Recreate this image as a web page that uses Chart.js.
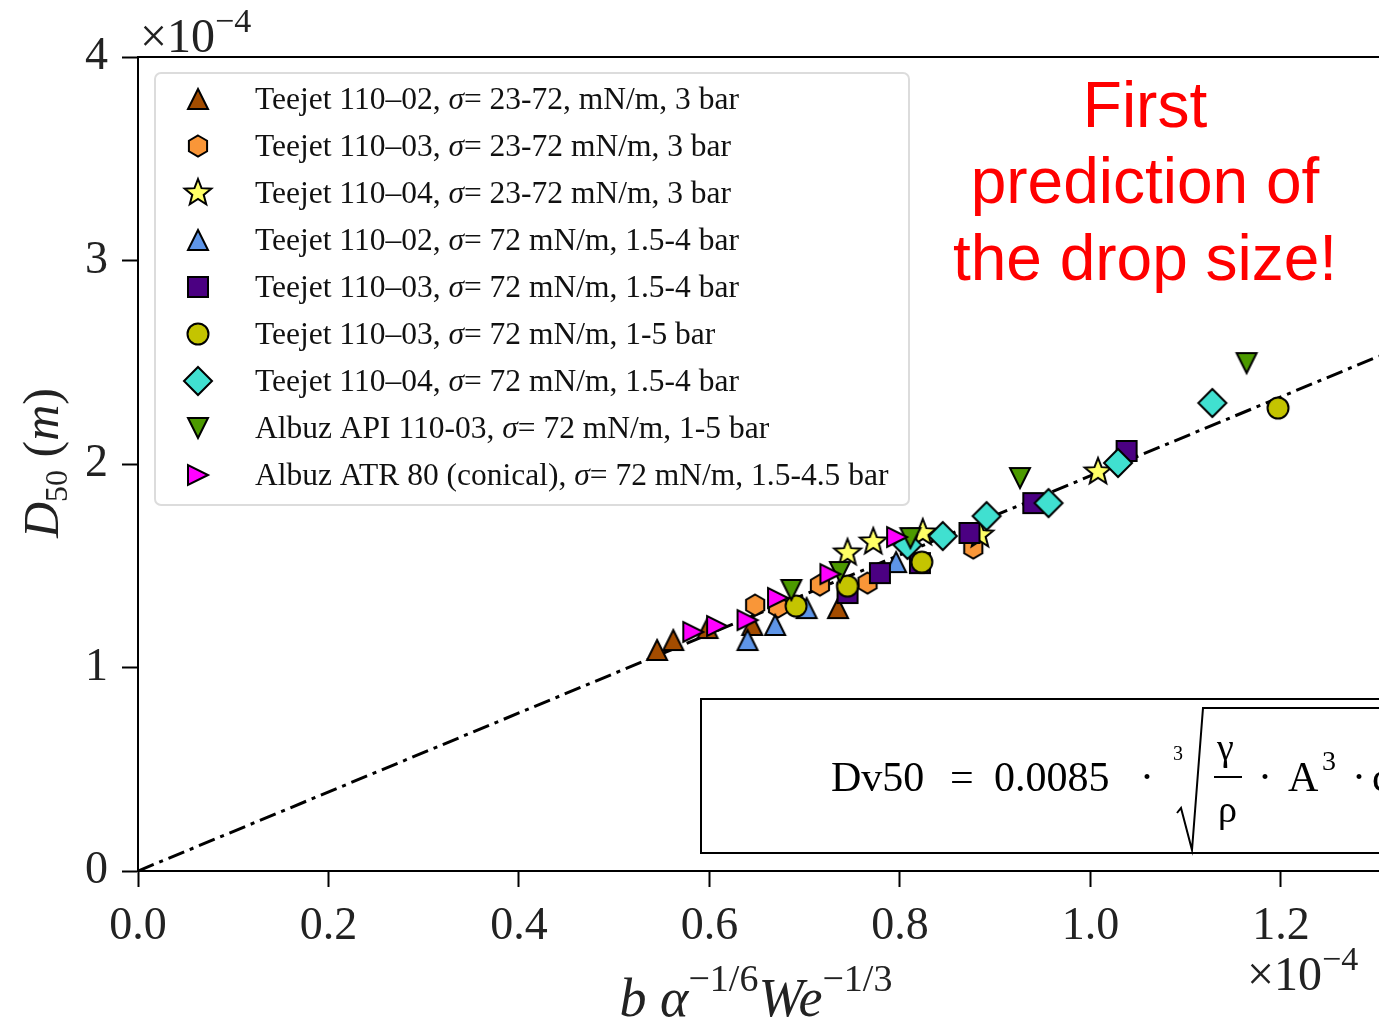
<!DOCTYPE html>
<html>
<head>
<meta charset="utf-8">
<script src="https://cdn.jsdelivr.net/npm/chart.js@4.4.0/dist/chart.umd.min.js"></script>
<style>
  html, body { margin: 0; padding: 0; background: #fff; }
  canvas { display: block; }
</style>
</head>
<body>
<canvas id="chart" width="1379" height="1023"></canvas>
<script>
// values in units of 1e-4
const xTicks = [0.0, 0.2, 0.4, 0.6, 0.8, 1.0, 1.2];
const yTicks = [0, 1, 2, 3, 4];

const tj0202sX = [0.545, 0.562, 0.598, 0.645, 0.735];
const tj0202sY = [1.086, 1.135, 1.194, 1.209, 1.292];
const tj0303sX = [0.648, 0.672, 0.716, 0.766, 0.877];
const tj0303sY = [1.307, 1.297, 1.405, 1.415, 1.587];
const tj0404sX = [0.745, 0.772, 0.824, 0.884, 1.008];
const tj0404sY = [1.563, 1.617, 1.661, 1.651, 1.961];
const tj02X = [0.640, 0.669, 0.702, 0.796];
const tj02Y = [1.135, 1.209, 1.292, 1.518];
const tj03X = [0.745, 0.779, 0.821, 0.873, 0.940, 1.038];
const tj03Y = [1.366, 1.464, 1.513, 1.661, 1.808, 2.064];
const tj03bX = [0.691, 0.745, 0.823, 1.197];
const tj03bY = [1.302, 1.400, 1.518, 2.275];
const tj04X = [0.808, 0.845, 0.891, 0.956, 1.029, 1.128];
const tj04Y = [1.602, 1.646, 1.744, 1.808, 2.005, 2.300];
const apiX = [0.686, 0.737, 0.811, 0.926, 1.164];
const apiY = [1.381, 1.469, 1.636, 1.931, 2.496];
const atrX = [0.583, 0.608, 0.640, 0.672, 0.727, 0.797];
const atrY = [1.175, 1.204, 1.233, 1.342, 1.459, 1.641];

const fitX = [0, 1.303];
const fitY = [0, 2.53];

const labels = [
  ['Teejet 110–02, ', '= 23-72, mN/m, 3 bar'],
  ['Teejet 110–03, ', '= 23-72 mN/m, 3 bar'],
  ['Teejet 110–04, ', '= 23-72 mN/m, 3 bar'],
  ['Teejet 110–02, ', '= 72 mN/m, 1.5-4 bar'],
  ['Teejet 110–03, ', '= 72 mN/m, 1.5-4 bar'],
  ['Teejet 110–03, ', '= 72 mN/m, 1-5 bar'],
  ['Teejet 110–04, ', '= 72 mN/m, 1.5-4 bar'],
  ['Albuz API 110-03, ', '= 72 mN/m, 1-5 bar'],
  ['Albuz ATR 80 (conical), ', '= 72 mN/m, 1.5-4.5 bar']
];
const colors = ['#a34c00', '#f99638', '#ffff66', '#5e95e8', '#4b0082', '#c4c400', '#40e0d0', '#4c9a00', '#ff00ff'];
const shapes = ['tri', 'hex', 'star', 'tri', 'square', 'circle', 'diamond', 'down', 'right'];

const serif = "'Liberation Serif', 'DejaVu Serif', serif";

// marker images (matplotlib-like shapes with black edge)
function makeMarker(shape, fill) {
  const c = document.createElement('canvas');
  c.width = 34; c.height = 34;
  const g = c.getContext('2d');
  g.translate(17, 17);
  g.beginPath();
  if (shape === 'tri') {
    g.moveTo(0, -10); g.lineTo(10, 10); g.lineTo(-10, 10); g.closePath();
  } else if (shape === 'down') {
    g.moveTo(0, 10); g.lineTo(10, -10); g.lineTo(-10, -10); g.closePath();
  } else if (shape === 'right') {
    g.moveTo(10, 0); g.lineTo(-10, 10); g.lineTo(-10, -10); g.closePath();
  } else if (shape === 'hex') {
    for (let i = 0; i < 6; i++) {
      const a = -Math.PI / 2 + i * Math.PI / 3;
      const px = 10.5 * Math.cos(a), py = 10.5 * Math.sin(a);
      if (i === 0) g.moveTo(px, py); else g.lineTo(px, py);
    }
    g.closePath();
  } else if (shape === 'star') {
    for (let i = 0; i < 10; i++) {
      const a = -Math.PI / 2 + i * Math.PI / 5;
      const r = i % 2 === 0 ? 14 : 6;
      const px = r * Math.cos(a), py = r * Math.sin(a);
      if (i === 0) g.moveTo(px, py); else g.lineTo(px, py);
    }
    g.closePath();
  } else if (shape === 'square') {
    g.rect(-10, -10, 20, 20);
  } else if (shape === 'circle') {
    g.arc(0, 0, 10.5, 0, Math.PI * 2);
  } else if (shape === 'diamond') {
    g.moveTo(0, -14); g.lineTo(14, 0); g.lineTo(0, 14); g.lineTo(-14, 0); g.closePath();
  }
  g.fillStyle = fill;
  g.fill();
  g.lineWidth = 2;
  g.lineJoin = 'miter';
  g.strokeStyle = '#000';
  g.stroke();
  return c;
}
const markers = shapes.map((s, i) => makeMarker(s, colors[i]));

function pts(xs, ys) { return xs.map((x, i) => ({ x: x, y: ys[i] })); }
const seriesX = [tj0202sX, tj0303sX, tj0404sX, tj02X, tj03X, tj03bX, tj04X, apiX, atrX];
const seriesY = [tj0202sY, tj0303sY, tj0404sY, tj02Y, tj03Y, tj03bY, tj04Y, apiY, atrY];

const datasets = seriesX.map((xs, i) => ({
  label: labels[i].join('σ'),
  data: pts(xs, seriesY[i]),
  pointStyle: markers[i],
  pointRadius: 14,
  order: 20 - i
}));
datasets.push({
  type: 'line',
  label: 'fit',
  data: pts(fitX, fitY),
  borderColor: '#000',
  borderWidth: 3,
  borderDash: [17, 6, 4, 6],
  pointRadius: 0,
  fill: false,
  order: 50
});

function drawRuns(ctx, runs, x, y) {
  runs.forEach(p => {
    ctx.font = p[1] + ' ' + serif;
    ctx.fillText(p[0], x, y + p[2]);
    x += ctx.measureText(p[0]).width;
  });
}
function runsWidth(ctx, runs) {
  let w = 0;
  runs.forEach(p => { ctx.font = p[1] + ' ' + serif; w += ctx.measureText(p[0]).width; });
  return w;
}

const decorations = {
  id: 'decorations',
  afterDraw(chart) {
    const ctx = chart.ctx;
    const a = chart.chartArea;
    ctx.save();
    // top frame line
    ctx.strokeStyle = '#000';
    ctx.lineWidth = 2;
    ctx.beginPath();
    ctx.moveTo(a.left, a.top); ctx.lineTo(chart.width, a.top);
    ctx.stroke();

    // legend
    ctx.beginPath();
    ctx.roundRect(155, 73, 754, 432, 6);
    ctx.fillStyle = 'rgba(255,255,255,0.85)';
    ctx.fill();
    ctx.strokeStyle = '#dcdcdc';
    ctx.lineWidth = 2;
    ctx.stroke();
    ctx.textBaseline = 'alphabetic';
    ctx.fillStyle = '#111';
    labels.forEach((lab, i) => {
      const y = 99 + 47 * i;
      ctx.drawImage(markers[i], 198 - 17, y - 17);
      drawRuns(ctx, [[lab[0], '31.5px', 0], ['σ', 'italic 31.5px', 0], [lab[1], '31.5px', 0]], 255, y + 10);
    });

    // red annotation
    ctx.fillStyle = '#ff0000';
    ctx.font = "64px 'Liberation Sans', Arial, sans-serif";
    ctx.textAlign = 'center';
    ctx.fillText('First', 1145, 127);
    ctx.fillText('prediction of', 1145, 203);
    ctx.fillText('the drop size!', 1145, 280);
    ctx.textAlign = 'left';

    // equation box
    ctx.fillStyle = '#fff';
    ctx.fillRect(701, 699, 700, 154);
    ctx.strokeStyle = '#000';
    ctx.lineWidth = 2;
    ctx.strokeRect(701, 699, 700, 154);
    ctx.fillStyle = '#000';
    ctx.font = '42px ' + serif;
    ctx.fillText('Dv50', 831, 791);
    ctx.fillText('=', 950, 791);
    ctx.fillText('0.0085', 994, 791);
    ctx.fillText('·', 1140, 791);
    ctx.font = '20px ' + serif;
    ctx.fillText('3', 1173, 760);
    ctx.beginPath();
    ctx.lineWidth = 2;
    ctx.moveTo(1177, 813); ctx.lineTo(1181, 808); ctx.lineTo(1192, 850);
    ctx.lineTo(1203, 708); ctx.lineTo(1385, 708);
    ctx.stroke();
    ctx.font = '38px ' + serif;
    ctx.fillText('γ', 1217, 760);
    ctx.fillText('ρ', 1218, 822);
    ctx.beginPath();
    ctx.moveTo(1214, 777); ctx.lineTo(1242, 777);
    ctx.stroke();
    ctx.font = '42px ' + serif;
    ctx.fillText('·', 1258, 791);
    ctx.fillText('A', 1288, 791);
    ctx.font = '28px ' + serif;
    ctx.fillText('3', 1322, 770);
    ctx.font = '42px ' + serif;
    ctx.fillText('·', 1352, 791);
    ctx.fillText('c', 1372, 791);

    // exponent labels
    ctx.fillStyle = '#222';
    drawRuns(ctx, [['×10', '48px', 0], ['−4', '34px', -20]], 140, 52);
    drawRuns(ctx, [['×10', '48px', 0], ['−4', '34px', -20]], 1247, 990);

    // x title
    const xt = [['b', 'italic 54px', 0], [' ', '54px', 0], ['α', 'italic 54px', 0], ['−1/6', '38px', -25],
                ['We', 'italic 54px', 0], ['−1/3', '38px', -25]];
    drawRuns(ctx, xt, 756 - runsWidth(ctx, xt) / 2, 1016);

    // y title (rotated)
    ctx.translate(58, 463);
    ctx.rotate(-Math.PI / 2);
    const yt = [['D', 'italic 50px', 0], ['50', '32px', 9], [' (', '50px', 0], ['m', 'italic 50px', 0], [')', '50px', 0]];
    drawRuns(ctx, yt, -runsWidth(ctx, yt) / 2, 0);
    ctx.restore();
  }
};

new Chart(document.getElementById('chart'), {
  type: 'scatter',
  data: { datasets: datasets },
  options: {
    responsive: false,
    animation: false,
    devicePixelRatio: 1,
    layout: { autoPadding: false, padding: { top: 57, right: 0, left: 0, bottom: 0 } },
    plugins: { legend: { display: false }, tooltip: { enabled: false } },
    scales: {
      x: {
        type: 'linear',
        min: 0,
        max: 1.303,
        afterBuildTicks: axis => { axis.ticks = xTicks.map(v => ({ value: v })); },
        afterFit: scale => { scale.height = 152; },
        ticks: {
          callback: v => v.toFixed(1),
          font: { family: serif, size: 46 },
          color: '#222',
          padding: 12,
          maxRotation: 0,
          autoSkip: false
        },
        grid: { drawOnChartArea: false, tickLength: 16, tickWidth: 2, tickColor: '#000' },
        border: { display: true, color: '#000', width: 2 }
      },
      y: {
        type: 'linear',
        min: 0,
        max: 4,
        afterBuildTicks: axis => { axis.ticks = yTicks.map(v => ({ value: v })); },
        afterFit: scale => { scale.width = 138; },
        ticks: {
          callback: v => String(v),
          font: { family: serif, size: 46 },
          color: '#222',
          padding: 14
        },
        grid: { drawOnChartArea: false, tickLength: 16, tickWidth: 2, tickColor: '#000' },
        border: { display: true, color: '#000', width: 2 }
      }
    }
  },
  plugins: [decorations]
});
</script>
</body>
</html>
